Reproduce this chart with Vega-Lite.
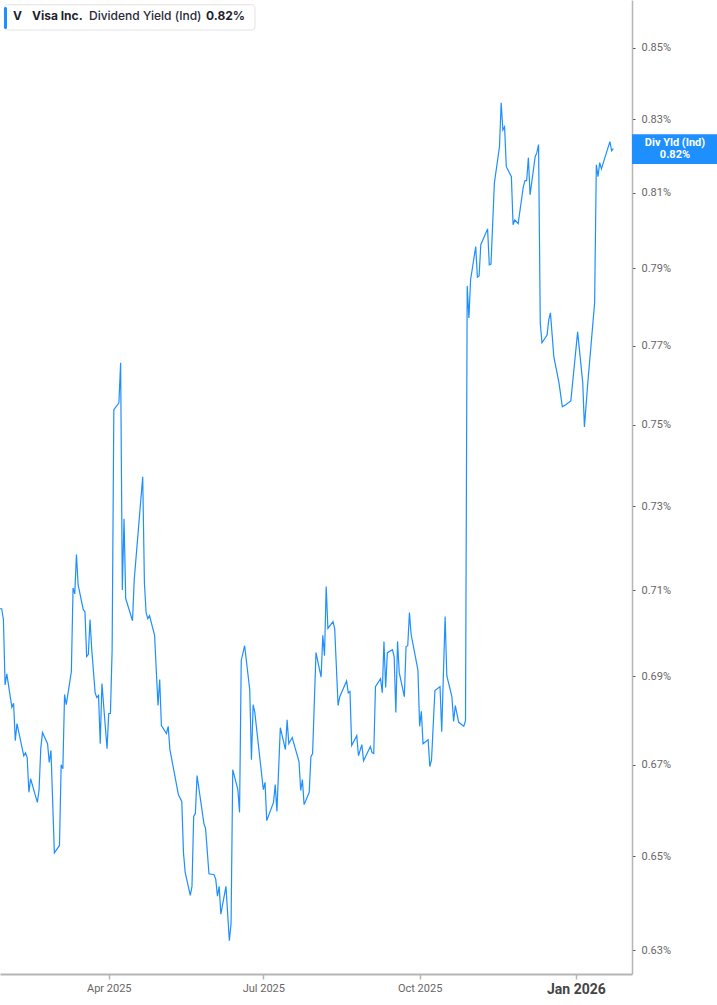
{
  "$schema": "https://vega.github.io/schema/vega-lite/v6.json",
  "width": 632,
  "height": 974,
  "padding": 0,
  "autosize": {"type": "pad"},
  "background": "white",
  "config": {"view": {"stroke": null}, "font": "Roboto"},
  "layer": [
    {
      "data": {
        "format": {"parse": {"date": "date:'%Y-%m-%d'"}},
        "values": [
          {"date":"2025-01-27","yield":0.7056},{"date":"2025-01-28","yield":0.7056},{"date":"2025-01-29","yield":0.7031},{"date":"2025-01-30","yield":0.6880},{"date":"2025-01-31","yield":0.6905},
          {"date":"2025-02-03","yield":0.6829},{"date":"2025-02-04","yield":0.6838},{"date":"2025-02-05","yield":0.6754},{"date":"2025-02-06","yield":0.6792},{"date":"2025-02-10","yield":0.6720},
          {"date":"2025-02-11","yield":0.6727},{"date":"2025-02-12","yield":0.6716},{"date":"2025-02-13","yield":0.6639},{"date":"2025-02-14","yield":0.6669},{"date":"2025-02-18","yield":0.6617},
          {"date":"2025-02-19","yield":0.6645},{"date":"2025-02-20","yield":0.6736},{"date":"2025-02-21","yield":0.6772},{"date":"2025-02-24","yield":0.6747},{"date":"2025-02-25","yield":0.6705},
          {"date":"2025-02-26","yield":0.6732},{"date":"2025-02-28","yield":0.6507},{"date":"2025-03-03","yield":0.6523},{"date":"2025-03-04","yield":0.6700},{"date":"2025-03-05","yield":0.6691},
          {"date":"2025-03-06","yield":0.6858},{"date":"2025-03-07","yield":0.6835},{"date":"2025-03-10","yield":0.6910},{"date":"2025-03-11","yield":0.7105},{"date":"2025-03-12","yield":0.7091},
          {"date":"2025-03-13","yield":0.7184},{"date":"2025-03-14","yield":0.7112},{"date":"2025-03-17","yield":0.7054},{"date":"2025-03-18","yield":0.7049},{"date":"2025-03-19","yield":0.6945},
          {"date":"2025-03-20","yield":0.6950},{"date":"2025-03-21","yield":0.7031},{"date":"2025-03-22","yield":0.6961},{"date":"2025-03-24","yield":0.6862},{"date":"2025-03-25","yield":0.6851},
          {"date":"2025-03-26","yield":0.6856},{"date":"2025-03-27","yield":0.6747},{"date":"2025-03-28","yield":0.6883},{"date":"2025-03-31","yield":0.6736},{"date":"2025-04-01","yield":0.6815},
          {"date":"2025-04-02","yield":0.6815},{"date":"2025-04-03","yield":0.6961},{"date":"2025-04-04","yield":0.7538},{"date":"2025-04-07","yield":0.7555},{"date":"2025-04-08","yield":0.7656},
          {"date":"2025-04-09","yield":0.7100},{"date":"2025-04-10","yield":0.7270},{"date":"2025-04-11","yield":0.7080},{"date":"2025-04-15","yield":0.7028},{"date":"2025-04-16","yield":0.7124},
          {"date":"2025-04-21","yield":0.7372},{"date":"2025-04-22","yield":0.7117},{"date":"2025-04-23","yield":0.7047},{"date":"2025-04-24","yield":0.7033},{"date":"2025-04-25","yield":0.7040},
          {"date":"2025-04-28","yield":0.6994},{"date":"2025-04-30","yield":0.6833},{"date":"2025-05-01","yield":0.6892},{"date":"2025-05-02","yield":0.6788},{"date":"2025-05-05","yield":0.6770},
          {"date":"2025-05-06","yield":0.6786},{"date":"2025-05-07","yield":0.6734},{"date":"2025-05-12","yield":0.6634},{"date":"2025-05-14","yield":0.6619},{"date":"2025-05-15","yield":0.6507},
          {"date":"2025-05-16","yield":0.6465},{"date":"2025-05-19","yield":0.6416},{"date":"2025-05-20","yield":0.6435},{"date":"2025-05-21","yield":0.6586},{"date":"2025-05-22","yield":0.6593},
          {"date":"2025-05-23","yield":0.6676},{"date":"2025-05-27","yield":0.6571},{"date":"2025-05-28","yield":0.6560},{"date":"2025-05-30","yield":0.6462},{"date":"2025-06-02","yield":0.6460},
          {"date":"2025-06-03","yield":0.6450},{"date":"2025-06-04","yield":0.6414},{"date":"2025-06-05","yield":0.6435},{"date":"2025-06-06","yield":0.6376},{"date":"2025-06-09","yield":0.6435},
          {"date":"2025-06-11","yield":0.6320},{"date":"2025-06-12","yield":0.6356},{"date":"2025-06-13","yield":0.6689},{"date":"2025-06-16","yield":0.6645},{"date":"2025-06-17","yield":0.6595},
          {"date":"2025-06-18","yield":0.6936},{"date":"2025-06-20","yield":0.6970},{"date":"2025-06-23","yield":0.6869},{"date":"2025-06-24","yield":0.6711},{"date":"2025-06-25","yield":0.6835},
          {"date":"2025-06-26","yield":0.6817},{"date":"2025-07-01","yield":0.6645},{"date":"2025-07-02","yield":0.6661},{"date":"2025-07-03","yield":0.6577},{"date":"2025-07-07","yield":0.6617},
          {"date":"2025-07-08","yield":0.6656},{"date":"2025-07-09","yield":0.6597},{"date":"2025-07-11","yield":0.6783},{"date":"2025-07-14","yield":0.6734},{"date":"2025-07-15","yield":0.6801},
          {"date":"2025-07-16","yield":0.6747},{"date":"2025-07-18","yield":0.6761},{"date":"2025-07-22","yield":0.6707},{"date":"2025-07-23","yield":0.6643},{"date":"2025-07-24","yield":0.6667},
          {"date":"2025-07-25","yield":0.6612},{"date":"2025-07-28","yield":0.6639},{"date":"2025-07-29","yield":0.6718},{"date":"2025-07-30","yield":0.6725},{"date":"2025-08-01","yield":0.6954},
          {"date":"2025-08-04","yield":0.6898},{"date":"2025-08-05","yield":0.6994},{"date":"2025-08-06","yield":0.6947},{"date":"2025-08-07","yield":0.7108},{"date":"2025-08-08","yield":0.7010},
          {"date":"2025-08-11","yield":0.7026},{"date":"2025-08-12","yield":0.7010},{"date":"2025-08-14","yield":0.6833},{"date":"2025-08-15","yield":0.6853},{"date":"2025-08-19","yield":0.6889},
          {"date":"2025-08-20","yield":0.6862},{"date":"2025-08-21","yield":0.6865},{"date":"2025-08-22","yield":0.6743},{"date":"2025-08-25","yield":0.6765},{"date":"2025-08-26","yield":0.6720},
          {"date":"2025-08-28","yield":0.6745},{"date":"2025-08-29","yield":0.6709},{"date":"2025-09-02","yield":0.6741},{"date":"2025-09-03","yield":0.6727},{"date":"2025-09-04","yield":0.6725},
          {"date":"2025-09-05","yield":0.6876},{"date":"2025-09-08","yield":0.6894},{"date":"2025-09-09","yield":0.6862},{"date":"2025-09-10","yield":0.6980},{"date":"2025-09-11","yield":0.6874},
          {"date":"2025-09-12","yield":0.6954},{"date":"2025-09-15","yield":0.6961},{"date":"2025-09-16","yield":0.6945},{"date":"2025-09-17","yield":0.6817},{"date":"2025-09-18","yield":0.6980},
          {"date":"2025-09-19","yield":0.6908},{"date":"2025-09-22","yield":0.6853},{"date":"2025-09-23","yield":0.6968},{"date":"2025-09-24","yield":0.6970},{"date":"2025-09-25","yield":0.7047},
          {"date":"2025-09-26","yield":0.6996},{"date":"2025-09-30","yield":0.6914},{"date":"2025-10-01","yield":0.6786},{"date":"2025-10-02","yield":0.6820},{"date":"2025-10-03","yield":0.6747},
          {"date":"2025-10-06","yield":0.6756},{"date":"2025-10-07","yield":0.6696},{"date":"2025-10-08","yield":0.6711},{"date":"2025-10-10","yield":0.6867},{"date":"2025-10-13","yield":0.6876},
          {"date":"2025-10-14","yield":0.6774},{"date":"2025-10-16","yield":0.7038},{"date":"2025-10-17","yield":0.6901},{"date":"2025-10-20","yield":0.6853},{"date":"2025-10-21","yield":0.6797},
          {"date":"2025-10-22","yield":0.6833},{"date":"2025-10-24","yield":0.6795},{"date":"2025-10-27","yield":0.6786},{"date":"2025-10-28","yield":0.6799},{"date":"2025-10-29","yield":0.7854},
          {"date":"2025-10-30","yield":0.7771},{"date":"2025-10-31","yield":0.7870},{"date":"2025-11-03","yield":0.7957},{"date":"2025-11-04","yield":0.7877},{"date":"2025-11-05","yield":0.7880},
          {"date":"2025-11-06","yield":0.7962},{"date":"2025-11-10","yield":0.8004},{"date":"2025-11-11","yield":0.7909},{"date":"2025-11-12","yield":0.7911},{"date":"2025-11-14","yield":0.8127},
          {"date":"2025-11-17","yield":0.8225},{"date":"2025-11-18","yield":0.8346},{"date":"2025-11-19","yield":0.8271},{"date":"2025-11-20","yield":0.8280},{"date":"2025-11-21","yield":0.8171},
          {"date":"2025-11-24","yield":0.8144},{"date":"2025-11-25","yield":0.8015},{"date":"2025-11-26","yield":0.8028},{"date":"2025-11-28","yield":0.8018},{"date":"2025-12-01","yield":0.8116},
          {"date":"2025-12-02","yield":0.8133},{"date":"2025-12-03","yield":0.8133},{"date":"2025-12-04","yield":0.8195},{"date":"2025-12-05","yield":0.8095},{"date":"2025-12-08","yield":0.8198},
          {"date":"2025-12-09","yield":0.8209},{"date":"2025-12-10","yield":0.8231},{"date":"2025-12-11","yield":0.7758},{"date":"2025-12-12","yield":0.7707},{"date":"2025-12-15","yield":0.7727},
          {"date":"2025-12-16","yield":0.7766},{"date":"2025-12-17","yield":0.7784},{"date":"2025-12-19","yield":0.7671},{"date":"2025-12-22","yield":0.7606},{"date":"2025-12-24","yield":0.7545},
          {"date":"2025-12-26","yield":0.7550},{"date":"2025-12-29","yield":0.7560},{"date":"2026-01-02","yield":0.7735},{"date":"2026-01-05","yield":0.7606},{"date":"2026-01-06","yield":0.7495},
          {"date":"2026-01-08","yield":0.7606},{"date":"2026-01-10","yield":0.7707},{"date":"2026-01-12","yield":0.7810},{"date":"2026-01-13","yield":0.8176},{"date":"2026-01-14","yield":0.8144},
          {"date":"2026-01-15","yield":0.8182},{"date":"2026-01-16","yield":0.8165},{"date":"2026-01-18","yield":0.8195},{"date":"2026-01-21","yield":0.8239},{"date":"2026-01-22","yield":0.8214},
          {"date":"2026-01-23","yield":0.8220}
        ]
      },
      "mark": {"type": "line", "color": "#1e8fff", "strokeWidth": 1.2, "clip": true},
      "encoding": {
        "x": {
          "field": "date", "type": "temporal", "title": null,
          "scale": {"domain": [{"year": 2025, "month": 1, "date": 27}, {"year": 2026, "month": 2, "date": 3}]},
          "axis": {
            "values": [{"year": 2025, "month": 4, "date": 1}, {"year": 2025, "month": 7, "date": 1}, {"year": 2025, "month": 10, "date": 1}, {"year": 2026, "month": 1, "date": 1}],
            "format": "%b %Y", "title": null, "grid": false,
            "domainColor": "#b5b5b5", "domainWidth": 2, "tickColor": "#b5b5b5", "tickSize": 5, "tickWidth": 1.5,
            "labelPadding": 3, "labelFont": "Roboto",
            "labelColor": {"condition": {"test": "month(datum.value) == 0", "value": "#444444"}, "value": "#666666"},
            "labelFontSize": {"condition": {"test": "month(datum.value) == 0", "value": 14}, "value": 11},
            "labelFontWeight": {"condition": {"test": "month(datum.value) == 0", "value": "bold"}, "value": "normal"}
          }
        },
        "y": {
          "field": "yield", "type": "quantitative", "title": null,
          "scale": {"type": "log", "domain": [0.62506, 0.86356], "nice": false, "zero": false},
          "axis": {
            "orient": "right", "values": [0.63, 0.65, 0.67, 0.69, 0.71, 0.73, 0.75, 0.77, 0.79, 0.81, 0.83, 0.85],
            "labelExpr": "format(datum.value, '.2f') + '%'", "title": null, "grid": false,
            "domainColor": "#b5b5b5", "domainWidth": 1.5, "tickColor": "#555555", "tickSize": 3, "tickWidth": 1,
            "labelColor": "#666666", "labelFontSize": 11, "labelPadding": 6, "labelFont": "Roboto"
          }
        }
      }
    },
    {
      "data": {"values": [{}]},
      "mark": {"type": "rect", "fill": "white", "stroke": "#e3e3e3", "strokeWidth": 1, "cornerRadius": 3},
      "encoding": {
        "x": {"datum": {"year": 2025, "month": 1, "date": 29, "hours": 16}, "type": "temporal"},
        "x2": {"datum": {"year": 2025, "month": 6, "date": 26, "hours": 2}},
        "y": {"datum": 0.86221, "type": "quantitative"},
        "y2": {"datum": 0.85501}
      }
    },
    {
      "data": {"values": [{}]},
      "mark": {"type": "rect", "fill": "#1e8fff", "cornerRadius": 1.5},
      "encoding": {
        "x": {"datum": {"year": 2025, "month": 1, "date": 29, "hours": 8}, "type": "temporal"},
        "x2": {"datum": {"year": 2025, "month": 1, "date": 31, "hours": 3}},
        "y": {"datum": 0.86156, "type": "quantitative"},
        "y2": {"datum": 0.85529}
      }
    },
    {
      "data": {"values": [{}]},
      "mark": {"type": "text", "text": "V", "font": "Inter", "fontSize": 12, "fontWeight": "bold", "color": "#1f1f2e", "align": "left", "baseline": "middle"},
      "encoding": {
        "x": {"datum": {"year": 2025, "month": 2, "date": 3, "hours": 16}, "type": "temporal"},
        "y": {"datum": 0.85885, "type": "quantitative"}
      }
    },
    {
      "data": {"values": [{}]},
      "mark": {"type": "text", "text": "Visa Inc.", "font": "Inter", "fontSize": 12, "fontWeight": "bold", "color": "#1f1f2e", "align": "left", "baseline": "middle"},
      "encoding": {
        "x": {"datum": {"year": 2025, "month": 2, "date": 14, "hours": 20}, "type": "temporal"},
        "y": {"datum": 0.85885, "type": "quantitative"}
      }
    },
    {
      "data": {"values": [{}]},
      "mark": {"type": "text", "text": "Dividend Yield (Ind)", "font": "Inter", "fontSize": 12, "fontWeight": 500, "color": "#2a2a38", "align": "left", "baseline": "middle"},
      "encoding": {
        "x": {"datum": {"year": 2025, "month": 3, "date": 20, "hours": 9}, "type": "temporal"},
        "y": {"datum": 0.85885, "type": "quantitative"}
      }
    },
    {
      "data": {"values": [{}]},
      "mark": {"type": "text", "text": "0.82%", "font": "Inter", "fontSize": 12, "fontWeight": "bold", "color": "#1f1f2e", "align": "left", "baseline": "middle"},
      "encoding": {
        "x": {"datum": {"year": 2025, "month": 5, "date": 28, "hours": 6}, "type": "temporal"},
        "y": {"datum": 0.85885, "type": "quantitative"}
      }
    },
    {
      "data": {"values": [{}]},
      "mark": {"type": "rect", "fill": "#1e8fff"},
      "encoding": {
        "x": {"datum": {"year": 2026, "month": 2, "date": 3}, "type": "temporal"},
        "x2": {"datum": {"year": 2026, "month": 3, "date": 31}},
        "y": {"datum": 0.82593, "type": "quantitative"},
        "y2": {"datum": 0.81783}
      }
    },
    {
      "data": {"values": [{}]},
      "mark": {"type": "text", "text": "Div Yld (Ind)", "font": "Roboto", "fontSize": 11, "fontWeight": "bold", "color": "white", "align": "center", "baseline": "middle"},
      "encoding": {
        "x": {"datum": {"year": 2026, "month": 2, "date": 28, "hours": 7}, "type": "temporal"},
        "y": {"datum": 0.82355, "type": "quantitative"}
      }
    },
    {
      "data": {"values": [{}]},
      "mark": {"type": "text", "text": "0.82%", "font": "Roboto", "fontSize": 11, "fontWeight": "bold", "color": "white", "align": "center", "baseline": "middle"},
      "encoding": {
        "x": {"datum": {"year": 2026, "month": 2, "date": 28, "hours": 7}, "type": "temporal"},
        "y": {"datum": 0.82028, "type": "quantitative"}
      }
    }
  ]
}
